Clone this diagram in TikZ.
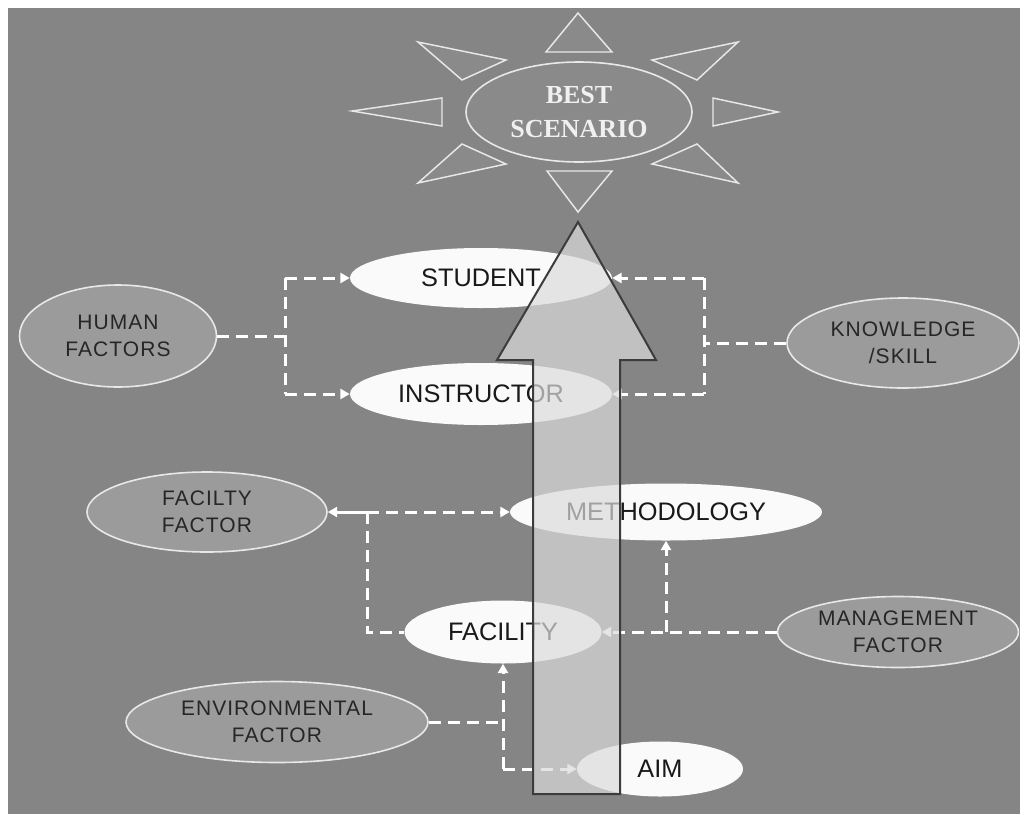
\documentclass[tikz,border=0pt]{standalone}
\usepackage{fontspec}
\setmainfont{Liberation Sans}
\newfontfamily\sunfont{Liberation Serif}
\usetikzlibrary{shapes.geometric,arrows.meta}
\definecolor{bg}{RGB}{133,133,133}
\definecolor{facfill}{RGB}{155,155,155}
\definecolor{rayfill}{RGB}{138,138,138}
\definecolor{arrowfill}{RGB}{219,219,219}
\definecolor{arrowline}{RGB}{60,60,60}
\definecolor{nodefill}{RGB}{250,250,250}
\definecolor{rim}{RGB}{232,232,232}
\begin{document}
\begin{tikzpicture}[x=0.75pt,y=-0.75pt,
  whitenode/.style={ellipse, fill=nodefill, inner sep=0pt, font=\fontsize{19}{22}\selectfont, text=black!90},
  factor/.style={ellipse, fill=facfill, draw=rim, line width=1.2pt, inner sep=0pt, align=center,
    font=\fontsize{15.75}{20}\selectfont\addfontfeature{LetterSpace=5}, text=black!85},
  conn/.style={draw=white, line width=2.25pt, dash pattern=on 9pt off 5.25pt},
  arrowend/.style={-{Triangle[length=7pt,width=7.5pt]}},
  ray/.style={fill=rayfill, draw=rim, line width=1.1pt, line join=miter}]
\useasboundingbox (0,0) rectangle (1020,814);
\fill[bg] (8,8) rectangle (1020,814);
% sun rays
\draw[ray] (578,13) -- (612,52) -- (546,52) -- cycle;
\draw[ray] (547,171) -- (612,171) -- (578,212) -- cycle;
\draw[ray] (352,111) -- (442,98) -- (442,126) -- cycle;
\draw[ray] (713,98) -- (778,112) -- (713,126) -- cycle;
\draw[ray] (418,42) -- (506,60) -- (462,80) -- cycle;
\draw[ray] (738,42) -- (652,60) -- (697,80) -- cycle;
\draw[ray] (418,183) -- (506,164) -- (462,144) -- cycle;
\draw[ray] (738,183) -- (652,164) -- (697,144) -- cycle;
\node[ellipse, fill=rayfill, draw=rim, line width=1.2pt, inner sep=0pt, minimum width=169.5pt, minimum height=75pt,
  align=center, font=\sunfont\bfseries\fontsize{19.5}{25.5}\selectfont, text=white!94!black] (best) at (579,112) {BEST\\SCENARIO};
% main nodes
\node[whitenode, minimum width=196.5pt, minimum height=45pt] (student) at (481,278) {STUDENT};
\node[whitenode, minimum width=196.5pt, minimum height=46.5pt] (instr) at (481,394) {INSTRUCTOR};
\node[whitenode, minimum width=234pt, minimum height=42.75pt] (method) at (666,512) {METHODOLOGY};
\node[whitenode, minimum width=147.75pt, minimum height=47.25pt] (facility) at (503,632) {FACILITY};
\node[whitenode, minimum width=124.5pt, minimum height=41.25pt] (aim) at (660,769) {AIM};
% factor nodes
\node[factor, minimum width=147.75pt, minimum height=76.5pt] (human) at (118,336) {HUMAN\\FACTORS};
\node[factor, minimum width=174pt, minimum height=67.5pt] (know) at (903,343) {KNOWLEDGE\\/SKILL};
\node[factor, minimum width=180pt, minimum height=60pt] (facfac) at (207,512) {FACILTY\\FACTOR};
\node[factor, minimum width=180.75pt, minimum height=53.25pt] (mgmt) at (898,632) {MANAGEMENT\\FACTOR};
\node[factor, minimum width=226.5pt, minimum height=60.75pt] (env) at (277,722) {ENVIRONMENTAL\\FACTOR};
% connectors
\coordinate (hj1) at (285,278);
\coordinate (hj2) at (285,394);
\draw[conn] (human.east) -- (human.east -| hj1);
\draw[conn] (hj1) -- (hj2);
\draw[conn,arrowend] (hj1) -- (student.west);
\draw[conn,arrowend] (hj2) -- (instr.west);
\coordinate (kj1) at (704,278);
\coordinate (kj2) at (704,394);
\draw[conn] (know.west) -- (know.west -| kj1);
\draw[conn] (kj1) -- (kj2);
\draw[conn,arrowend] (kj1) -- (student.east);
\draw[conn,arrowend] (kj2) -- (instr.east);
\coordinate (fj) at (367,512);
\draw[white, line width=2.25pt, arrowend] (fj) -- (facfac.east);
\draw[conn,arrowend] (fj) -- (method.west);
\draw[conn] (fj) |- (facility.west);
\coordinate (mj) at (666,632);
\draw[conn,arrowend] (mgmt.west) -- (facility.east);
\draw[conn,arrowend] (mj) -- (method.south);
\coordinate (ej) at (503,769);
\draw[conn] (env.east) -- (env.east -| ej);
\draw[conn,arrowend] (ej) -- (facility.south);
\draw[conn,arrowend] (ej) -- (aim.west);
% big arrow
\draw[draw=arrowline, line width=1.5pt, fill=arrowfill, fill opacity=0.7, line join=miter]
  (578,222) -- (656,360) -- (620,360) -- (620,794) -- (533,794) -- (533,360) -- (497,360) -- cycle;
\end{tikzpicture}
\end{document}
